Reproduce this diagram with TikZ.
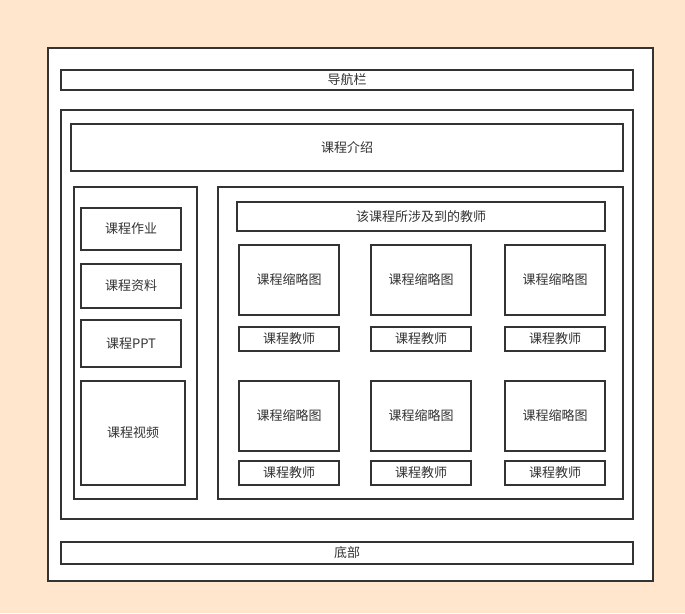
\documentclass[tikz,border=0pt]{standalone}
\usepackage{fontspec}
\setmainfont{Noto Sans CJK SC}
\definecolor{bg}{HTML}{FFE6CC}
\definecolor{ln}{HTML}{333333}
\definecolor{tx}{HTML}{333333}
\begin{document}
\begin{tikzpicture}[x=1pt,y=-1pt,
  box/.style={draw=ln,line width=1.6pt,fill=white},
  lbl/.style={text=tx,font=\fontsize{13}{15}\selectfont,inner sep=0pt}]
\fill[bg] (0,0) rectangle (685,613);
\useasboundingbox (0,0) rectangle (685,613);
\draw[box] (48,48) rectangle (653,581);
\draw[box] (61,70) rectangle (633,90);
\node[lbl] (nav) at (347,80) {导航栏};
\draw[box] (61,110) rectangle (633,519);
\draw[box] (71,124) rectangle (623,171);
\node[lbl] (intro) at (347,147.5) {课程介绍};
\draw[box] (74,187) rectangle (197,499);
\draw[box] (81,208) rectangle (181,250);
\node[lbl] (hw) at (131,229) {课程作业};
\draw[box] (81,264) rectangle (181,308);
\node[lbl] (res) at (131,286) {课程资料};
\draw[box] (81,320) rectangle (181,367);
\node[lbl] (ppt) at (131,343.5) {课程PPT};
\draw[box] (81,381) rectangle (185,485);
\node[lbl] (vid) at (133,433) {课程视频};
\draw[box] (218,187) rectangle (623,499);
\draw[box] (237,202) rectangle (605,231);
\node[lbl] (hdr) at (421,216.5) {该课程所涉及到的教师};
\foreach \x [count=\i] in {239,371,505}{
  \draw[box] (\x,245) rectangle (\x+100,315);
  \node[lbl] (ta\i) at (\x+50,280) {课程缩略图};
  \draw[box] (\x,327) rectangle (\x+100,351);
  \node[lbl] (te\i) at (\x+50,339) {课程教师};
  \draw[box] (\x,381) rectangle (\x+100,451);
  \node[lbl] (tb\i) at (\x+50,416) {课程缩略图};
  \draw[box] (\x,461) rectangle (\x+100,485);
  \node[lbl] (tf\i) at (\x+50,473) {课程教师};
}
\draw[box] (61,542) rectangle (633,564);
\node[lbl] (bot) at (347,553) {底部};
\end{tikzpicture}
\end{document}
